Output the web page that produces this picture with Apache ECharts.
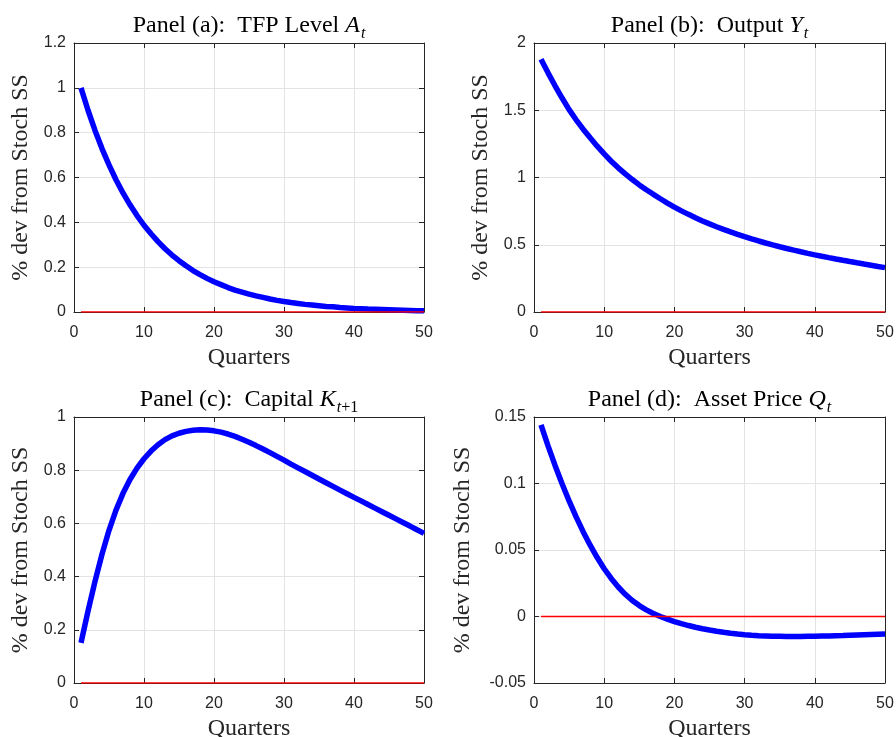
<!DOCTYPE html>
<html>
<head>
<meta charset="utf-8">
<script src="https://cdn.jsdelivr.net/npm/echarts@6/dist/echarts.min.js"></script>
<style>
html,body{margin:0;padding:0;background:#fff;overflow:hidden;}
#chart{width:896px;height:737px;}
</style>
</head>
<body>
<div id="chart"></div>
<script>
// ---- Data ----
const quarters = [1,2,3,4,5,6,7,8,9,10,11,12,13,14,15,16,17,18,19,20,21,22,23,24,25,26,27,28,29,30,31,32,33,34,35,36,37,38,39,40,41,42,43,44,45,46,47,48,49,50];

const tfpLevel = [1.000,0.900,0.810,0.729,0.656,0.590,0.531,0.478,0.430,0.387,
  0.349,0.314,0.282,0.254,0.229,0.206,0.185,0.167,0.150,0.135,
  0.122,0.109,0.098,0.089,0.080,0.072,0.065,0.058,0.052,0.047,
  0.042,0.038,0.034,0.031,0.028,0.025,0.023,0.020,0.018,0.016,
  0.015,0.013,0.012,0.011,0.010,0.009,0.008,0.007,0.006,0.006];

const output = [1.880,1.778,1.682,1.591,1.505,1.429,1.359,1.295,1.233,1.175,
  1.121,1.072,1.027,0.985,0.945,0.909,0.875,0.842,0.810,0.780,
  0.752,0.726,0.701,0.677,0.655,0.634,0.6145,0.5955,0.5775,0.560,
  0.5435,0.528,0.513,0.4985,0.485,0.472,0.4597,0.4478,0.4362,0.425,
  0.4144,0.4042,0.3943,0.3846,0.375,0.3657,0.3566,0.3477,0.3388,0.330];

const capital = [0.151,0.270,0.382,0.484,0.574,0.650,0.713,0.765,0.808,0.843,
  0.872,0.896,0.915,0.929,0.939,0.946,0.950,0.952,0.951,0.948,
  0.943,0.936,0.927,0.9165,0.905,0.8925,0.8795,0.866,0.852,0.838,
  0.823,0.809,0.795,0.781,0.767,0.753,0.739,0.725,0.7115,0.698,
  0.6845,0.671,0.6575,0.644,0.6305,0.617,0.6035,0.590,0.576,0.5625];

const assetPrice = [0.1440,0.1283,0.1136,0.0998,0.0869,0.0749,0.0638,0.0536,0.0443,0.0359,
  0.0286,0.0222,0.0167,0.0120,0.0082,0.0050,0.0023,0.0000,-0.0020,-0.0038,
  -0.0054,-0.0068,-0.0081,-0.0092,-0.0102,-0.0111,-0.0119,-0.0126,-0.0132,-0.0137,
  -0.0141,-0.0144,-0.0146,-0.0148,-0.0149,-0.0150,-0.0150,-0.0150,-0.0149,-0.0148,
  -0.0147,-0.0146,-0.0144,-0.0143,-0.0141,-0.0139,-0.0137,-0.0135,-0.0133,-0.0131];

const steadyState = [0,0,0,0,0,0,0,0,0,0,0,0,0,0,0,0,0,0,0,0,0,0,0,0,0,
  0,0,0,0,0,0,0,0,0,0,0,0,0,0,0,0,0,0,0,0,0,0,0,0,0];

const panelTitles = [
  '{n|Panel (a):  TFP Level }{v|A}{s|t}',
  '{n|Panel (b):  Output }{v|Y}{s|t}',
  '{n|Panel (c):  Capital }{v|K}{s|t}{u|+1}',
  '{n|Panel (d):  Asset Price }{v|Q}{s|t}'
];
const yRanges = [[0,1.2,0.2],[0,2,0.5],[0,1,0.2],[-0.05,0.15,0.05]];
const seriesList = [tfpLevel, output, capital, assetPrice];
const yLabel = '% dev from Stoch SS';
const xLabel = 'Quarters';

// ---- Layout ----
const grids = [
  {left:74, top:43, width:350, height:269},
  {left:534, top:43, width:351, height:269},
  {left:74, top:417, width:350, height:266},
  {left:534, top:417, width:351, height:266}
];
const yNameGaps = [41, 41, 41, 59];

const axisColor = '#262626';
const serif = '"Liberation Serif", "Times New Roman", serif';
const sans = '"Liberation Sans", Arial, sans-serif';
const nameSize = 24;
const titleSize = 24;

const pair = a => quarters.map((q,i)=>[q,a[i]]);

const xAxes = [], yAxes = [], series = [], titles = [];
grids.forEach((g,i)=>{
  const base = {gridIndex:i, type:'value', min:0, max:50, interval:10};
  xAxes.push(Object.assign({}, base, {
    position:'bottom',
    axisLine:{show:true, onZero:false, lineStyle:{color:axisColor, width:1}},
    axisTick:{show:true, inside:true, length:5, lineStyle:{color:axisColor}},
    axisLabel:{color:axisColor, fontFamily:sans, fontSize:16, margin:13},
    splitLine:{show:true, lineStyle:{color:'#e3e3e3', width:1}},
    name:xLabel, nameLocation:'middle', nameGap:34,
    nameTextStyle:{color:axisColor, fontFamily:serif, fontSize:nameSize}
  }));
  xAxes.push(Object.assign({}, base, {
    position:'top',
    axisLine:{show:true, onZero:false, lineStyle:{color:axisColor, width:1}},
    axisTick:{show:true, inside:true, length:5, lineStyle:{color:axisColor}},
    axisLabel:{show:false}, splitLine:{show:false}
  }));
  const yr = yRanges[i];
  const ybase = {gridIndex:i, type:'value', min:yr[0], max:yr[1], interval:yr[2]};
  yAxes.push(Object.assign({}, ybase, {
    position:'left',
    axisLine:{show:true, onZero:false, lineStyle:{color:axisColor, width:1}},
    axisTick:{show:true, inside:true, length:5, lineStyle:{color:axisColor}},
    axisLabel:{color:axisColor, fontFamily:sans, fontSize:16, margin:8},
    splitLine:{show:true, lineStyle:{color:'#e3e3e3', width:1}},
    name:yLabel, nameLocation:'middle', nameGap:yNameGaps[i], nameRotate:90,
    nameTextStyle:{color:axisColor, fontFamily:serif, fontSize:nameSize}
  }));
  yAxes.push(Object.assign({}, ybase, {
    position:'right',
    axisLine:{show:true, onZero:false, lineStyle:{color:axisColor, width:1}},
    axisTick:{show:true, inside:true, length:5, lineStyle:{color:axisColor}},
    axisLabel:{show:false}, splitLine:{show:false}
  }));
  series.push({
    type:'line', xAxisIndex:2*i, yAxisIndex:2*i, data:pair(seriesList[i]),
    showSymbol:false, symbol:'none', smooth:false,
    lineStyle:{color:'#0000ff', width:5.5}, z:3, animation:false
  });
  series.push({
    type:'line', xAxisIndex:2*i, yAxisIndex:2*i, data:pair(steadyState),
    showSymbol:false, symbol:'none',
    lineStyle:{color:'#ff0000', width:1.5}, z:4, animation:false
  });
  titles.push({
    text: panelTitles[i],
    left: g.left + g.width/2 - 5, top: g.top - 39, textAlign:'center',
    textStyle:{
      fontWeight:'normal',
      rich:{
        n:{fontFamily:serif, fontSize:titleSize, fontWeight:'normal', color:'#000'},
        v:{fontFamily:serif, fontSize:titleSize, fontStyle:'italic', fontWeight:'normal', color:'#000'},
        s:{fontFamily:serif, fontSize:16, fontStyle:'italic', fontWeight:'normal', color:'#000', padding:[17,0,0,1]},
        u:{fontFamily:serif, fontSize:16, fontWeight:'normal', color:'#000', padding:[17,0,0,0]}
      }
    }
  });
});

const chart = echarts.init(document.getElementById('chart'), null, {renderer:'canvas'});
chart.setOption({
  animation:false,
  backgroundColor:'#ffffff',
  title: titles,
  grid: grids.map(g=>Object.assign({containLabel:false, outerBoundsMode:'none'}, g)),
  xAxis: xAxes,
  yAxis: yAxes,
  series: series
});
</script>
</body>
</html>
